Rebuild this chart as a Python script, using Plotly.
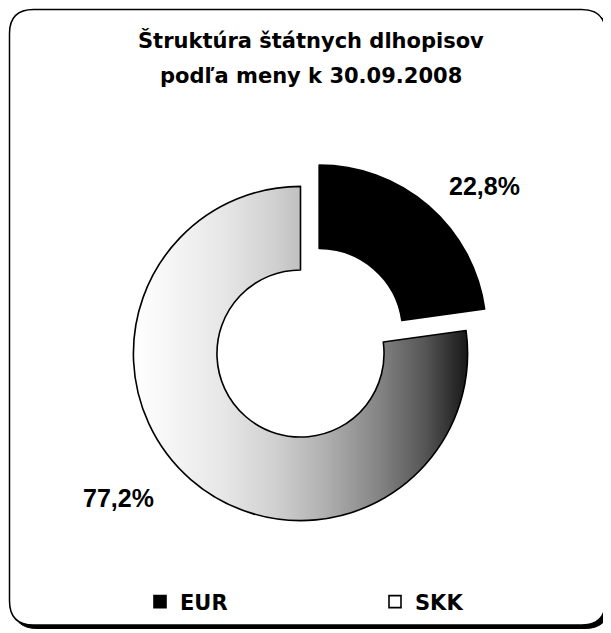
import numpy as np
import plotly.graph_objects as go

# ---------------- data ----------------
categories = ["EUR", "SKK"]
shares = [22.8, 77.2]
title_lines = ["Štruktúra štátnych dlhopisov", "podľa meny k 30.09.2008"]

# ---------------- layout geometry ----------------
OFF = 8  # page body margin: figure pixel = screen pixel - OFF
W, H = 603, 625
# square box (figure px) holding the donut
BX, BY, BS = 105 - OFF, 158 - OFF, 391
DOM_X = [BX / W, (BX + BS) / W]
DOM_Y = [1 - (BY + BS) / H, 1 - BY / H]
PULL = [0.17, 0.0]
HOLE = 0.5
EXT = 1 + max(PULL)


def px2x(sx):
    return (sx - OFF) / W


def py2y(sy):
    return 1 - (sy - OFF) / H


total = sum(shares)
fracs = [v / total for v in shares]
starts = np.concatenate([[0.0], np.cumsum(fracs)[:-1]]) * 360.0
ends = np.cumsum(fracs) * 360.0

fig = go.Figure()

# gradient fill underneath the SKK slice (pie cannot do gradients)
i = 1
th = np.radians(np.linspace(starts[i], ends[i], 400))
xs = np.concatenate([np.sin(th), HOLE * np.sin(th[::-1]), [np.sin(th[0])]])
ys = np.concatenate([np.cos(th), HOLE * np.cos(th[::-1]), [np.cos(th[0])]])
grad = [
    [0.0, "rgb(255,255,255)"],
    [0.125, "rgb(244,244,244)"],
    [0.275, "rgb(230,230,230)"],
    [0.424, "rgb(208,208,208)"],
    [0.573, "rgb(176,176,176)"],
    [0.722, "rgb(136,136,136)"],
    [0.872, "rgb(86,86,86)"],
    [1.0, "rgb(24,24,24)"],
]
fig.add_trace(go.Scatter(
    x=xs, y=ys, mode="none", fill="toself",
    fillgradient=dict(type="horizontal", start=-1, stop=1, colorscale=grad),
    hoverinfo="skip", showlegend=False,
))

fig.add_trace(go.Pie(
    labels=categories, values=shares, hole=HOLE, pull=PULL,
    sort=False, direction="clockwise", rotation=0,
    marker=dict(colors=["#000000", "rgba(0,0,0,0)"],
                line=dict(color="#000000", width=1.6)),
    textinfo="none", hoverinfo="label+percent",
    domain=dict(x=DOM_X, y=DOM_Y),
))

# percentage labels, anchored on each slice's bisector at the outer edge
shifts = [(56, 20), (-72, -18)]
annotations = []
for k, v in enumerate(shares):
    mid = np.radians((starts[k] + ends[k]) / 2)
    bx = (1 + PULL[k]) * np.sin(mid)
    by = (1 + PULL[k]) * np.cos(mid)
    annotations.append(dict(
        x=bx, y=by, xref="x", yref="y", showarrow=False,
        text=f"{v:.1f}%".replace(".", ","),
        font=dict(family="Liberation Sans, Arial", size=25, color="#000000", weight="bold"),
        xshift=shifts[k][0], yshift=shifts[k][1],
        xanchor="center", yanchor="middle",
    ))

# title lines
for txt, sy in zip(title_lines, [41, 76]):
    annotations.append(dict(
        x=px2x(311), y=py2y(sy), xref="paper", yref="paper", showarrow=False,
        text=txt, xanchor="center", yanchor="middle",
        font=dict(family="DejaVu Sans", size=21, color="#000000", weight="bold"),
    ))


def rrect(x0, y0, x1, y1, r):
    X0, X1 = px2x(x0), px2x(x1)
    Y0, Y1 = py2y(y0), py2y(y1)
    rx, ry = r / W, r / H
    return (f"M{X0+rx},{Y0} L{X1-rx},{Y0} Q{X1},{Y0} {X1},{Y0-ry} "
            f"L{X1},{Y1+ry} Q{X1},{Y1} {X1-rx},{Y1} L{X0+rx},{Y1} "
            f"Q{X0},{Y1} {X0},{Y1+ry} L{X0},{Y0-ry} Q{X0},{Y0} {X0+rx},{Y0} Z")


shapes = [
    dict(type="path", xref="paper", yref="paper", layer="below",
         path=rrect(13, 13, 609, 628.5, 24), fillcolor="#000000",
         line=dict(color="#000000", width=1)),
    dict(type="path", xref="paper", yref="paper", layer="below",
         path=rrect(9.5, 9.5, 605.5, 625, 24), fillcolor="#ffffff",
         line=dict(color="#000000", width=1.5)),
]

fig.update_layout(
    width=W, height=H,
    margin=dict(l=0, r=0, t=0, b=0, pad=0, autoexpand=False),
    paper_bgcolor="#ffffff", plot_bgcolor="rgba(0,0,0,0)",
    xaxis=dict(domain=DOM_X, range=[-EXT, EXT], visible=False, fixedrange=True),
    yaxis=dict(domain=DOM_Y, range=[-EXT, EXT], visible=False, fixedrange=True),
    showlegend=True,
    legend=dict(
        orientation="h", x=px2x(140), y=py2y(602),
        xanchor="left", yanchor="middle",
        xref="paper", yref="paper",
        font=dict(family="DejaVu Sans", size=21, color="#000000", weight="bold"),
        entrywidth=190, entrywidthmode="pixels",
        bgcolor="rgba(0,0,0,0)", traceorder="normal",
    ),
    annotations=annotations,
    shapes=shapes,
)

fig.write_html("out.html")
